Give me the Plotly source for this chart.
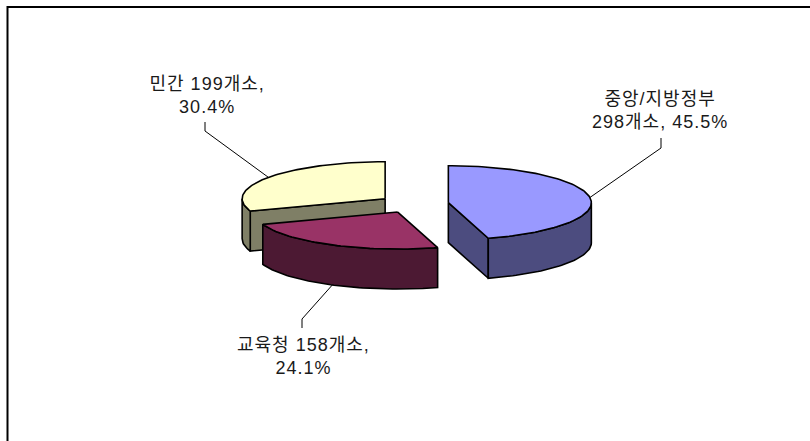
import math
import plotly.graph_objects as go

# --- data -------------------------------------------------------------
categories = ["중앙/지방정부", "교육청", "민간"]
counts = [298, 158, 199]
percent_labels = ["45.5%", "24.1%", "30.4%"]
label_lines = [
    "중앙/지방정부<br>298개소, 45.5%",
    "교육청 158개소,<br>24.1%",
    "민간 199개소,<br>30.4%",
]
top_colors = ["#9999FF", "#993366", "#FFFFCC"]
side_colors = ["#4C4C7F", "#4C1933", "#7F7F66"]

# --- pie projection ---------------------------------------------------
W, H = 810, 441
PIE_CX, PIE_CY = 413.7, 204.0
RX, RY = 143.0, 37.0
DEPTH = 40.0
EXPLODE = 35.0
EDGE = dict(color="#000000", width=1.6)

total = sum(counts)
fig = go.Figure()


def pt(cx, cy, theta, drop=0.0):
    a = math.radians(theta)
    return cx + RX * math.sin(a), cy - RY * math.cos(a) + drop


def arc(cx, cy, t0, t1, drop=0.0, step=1.5):
    n = max(2, int(abs(t1 - t0) / step))
    return [pt(cx, cy, t0 + (t1 - t0) * i / n, drop) for i in range(n + 1)]


def poly(points, color):
    xs = [p[0] for p in points] + [points[0][0]]
    ys = [p[1] for p in points] + [points[0][1]]
    fig.add_trace(go.Scatter(x=xs, y=ys, mode="lines", fill="toself", fillcolor=color,
                             line=EDGE, hoverinfo="skip", showlegend=False))


# slice geometry from the values
slices = []
start = 0.0
for name, value, top, side, label in zip(categories, counts, top_colors, side_colors, label_lines):
    sweep = 360.0 * value / total
    mid = start + sweep / 2
    a = math.radians(mid)
    cx = PIE_CX + EXPLODE * math.sin(a)
    cy = PIE_CY - EXPLODE * (RY / RX) * math.cos(a)
    slices.append(dict(t0=start, t1=start + sweep, mid=mid, cx=cx, cy=cy, top=top, side=side, label=label))
    start += sweep

# paint back to front: 민간, 교육청, 중앙/지방정부
for s in (slices[2], slices[1], slices[0]):
    cx, cy, t0, t1 = s["cx"], s["cy"], s["t0"], s["t1"]
    # radial cut faces that are turned to the viewer
    if s is slices[0]:
        e = pt(cx, cy, t1)
        poly([(cx, cy), e, (e[0], e[1] + DEPTH), (cx, cy + DEPTH)], s["side"])
    if s is slices[2]:
        e = pt(cx, cy, t0)
        poly([(cx, cy), e, (e[0], e[1] + DEPTH), (cx, cy + DEPTH)], s["side"])
    # outer wall: the lower half of the rim only
    w0, w1 = max(t0, 90.0), min(t1, 270.0)
    if w1 > w0:
        poly(arc(cx, cy, w0, w1) + arc(cx, cy, w1, w0, DEPTH), s["side"])
    # top face
    poly([(cx, cy)] + arc(cx, cy, t0, t1), s["top"])

# leader lines, from slice rim to label elbow
elbows = [((661, 148), (661, 138)), ((302, 319), (302, 328)), ((205, 131), (205, 122))]
label_xy = [(660, 110), (303, 356), (207, 95)]
for i, s in enumerate(slices):
    drop = DEPTH if s is slices[1] else 0.0
    anchor = pt(s["cx"], s["cy"], s["mid"], drop)
    (ex, ey), (lx, ly) = elbows[i]
    fig.add_trace(go.Scatter(x=[anchor[0], ex, lx], y=[anchor[1], ey, ly], mode="lines",
                             line=dict(color="#000000", width=1), hoverinfo="skip", showlegend=False))
    fig.add_annotation(x=label_xy[i][0], y=label_xy[i][1], text=s["label"], showarrow=False,
                       xanchor="center", yanchor="middle", align="center",
                       font=dict(family="Liberation Sans, Noto Sans CJK KR", size=18, color="#1a1a1a"))

fig.update_layout(
    width=W, height=H, margin=dict(l=0, r=0, t=0, b=0),
    paper_bgcolor="#FFFFFF", plot_bgcolor="#FFFFFF", showlegend=False,
    xaxis=dict(range=[0, W], visible=False, fixedrange=True),
    yaxis=dict(range=[H, 0], visible=False, fixedrange=True),
)
# chart-area frame: only its top and left edges fall inside the picture
fig.add_shape(type="rect", x0=7.5, y0=7, x1=W + 20, y1=H + 20,
              line=dict(color="#000000", width=2), layer="below")

post = """
document.body.style.margin = '0';
function spaceLabels() {
  document.querySelectorAll('.annotation-text').forEach(function (t) {
    t.style.letterSpacing = '1px';
  });
}
spaceLabels();
setTimeout(spaceLabels, 50);
"""
fig.write_html("out.html", config={"displayModeBar": False}, post_script=post)
